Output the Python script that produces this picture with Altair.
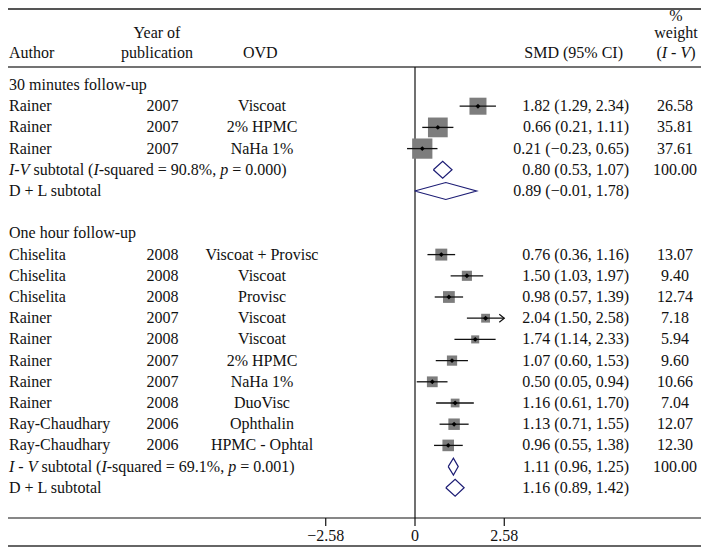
import altair as alt
import pandas as pd

# ---------------- data ----------------
authors = ["Rainer", "Rainer", "Rainer",
           "Chiselita", "Chiselita", "Chiselita", "Rainer", "Rainer", "Rainer",
           "Rainer", "Rainer", "Ray-Chaudhary", "Ray-Chaudhary"]
years = ["2007", "2007", "2007",
         "2008", "2008", "2008", "2007", "2008", "2007", "2007", "2008", "2006", "2006"]
ovds = ["Viscoat", "2% HPMC", "NaHa 1%",
        "Viscoat + Provisc", "Viscoat", "Provisc", "Viscoat", "Viscoat", "2% HPMC",
        "NaHa 1%", "DuoVisc", "Ophthalin", "HPMC - Ophtal"]
smd = [1.82, 0.66, 0.21, 0.76, 1.50, 0.98, 2.04, 1.74, 1.07, 0.50, 1.16, 1.13, 0.96]
ci_lo = [1.29, 0.21, -0.23, 0.36, 1.03, 0.57, 1.50, 1.14, 0.60, 0.05, 0.61, 0.71, 0.55]
ci_hi = [2.34, 1.11, 0.65, 1.16, 1.97, 1.39, 2.58, 2.33, 1.53, 0.94, 1.70, 1.55, 1.38]
weights = [26.58, 35.81, 37.61, 13.07, 9.40, 12.74, 7.18, 5.94, 9.60, 10.66, 7.04, 12.07, 12.30]
study_rows = [1, 2, 3, 8, 9, 10, 11, 12, 13, 14, 15, 16, 17]

group_titles = ["30 minutes follow-up", "One hour follow-up"]
group_rows = [0, 7]

sub_rows = [4, 5, 18, 19]
sub_est = [0.80, 0.89, 1.11, 1.16]
sub_lo = [0.53, -0.01, 0.96, 0.89]
sub_hi = [1.07, 1.78, 1.25, 1.42]
sub_weight = ["100.00", "", "100.00", ""]
dl_label = "D + L subtotal"
iv_stats = [("I-V", "90.8%", "0.000"), ("I - V", "69.1%", "0.001")]

tick_values = [-2.58, 0, 2.58]
tick_labels = ["\u22122.58", "0", "2.58"]
x_max = 2.58

# ---------------- layout ----------------
W, H = 693, 539
X0 = 407          # pixel of SMD = 0
PPU = 34.6        # pixels per SMD unit
ROW0 = 77
ROWH = 21.2
FONT = "Liberation Serif"
FS = 16
TXT = "#111111"
NAVY = "#1c1c74"

xscale = alt.Scale(domain=[0, 2.58], range=[X0, X0 + 2.58 * PPU], nice=False, zero=False)
yscale = alt.Scale(domain=[0, 19], range=[ROW0, ROW0 + 19 * ROWH], nice=False, zero=False)


def fmt(v):
    return f"{v:.2f}".replace("-", "\u2212")


studies = pd.DataFrame({
    "author": authors, "year": years, "ovd": ovds, "smd": smd,
    "lo": ci_lo, "hi": ci_hi, "wt": weights, "row": study_rows,
})
studies["hi_c"] = [min(h, x_max) for h in ci_hi]
studies["ci"] = [f"{fmt(m)} ({fmt(l)}, {fmt(h)})" for m, l, h in zip(smd, ci_lo, ci_hi)]
studies["wtxt"] = [f"{w:.2f}" for w in weights]

subs = pd.DataFrame({"row": sub_rows, "est": sub_est, "lo": sub_lo, "hi": sub_hi,
                     "wtxt": sub_weight})
subs["ci"] = [f"{fmt(m)} ({fmt(l)}, {fmt(h)})" for m, l, h in zip(sub_est, sub_lo, sub_hi)]

diam = []
for i, (r, m, l, h) in enumerate(zip(sub_rows, sub_est, sub_lo, sub_hi)):
    pts = [(l, r), (m, r - 0.4), (h, r), (m, r + 0.4), (l, r)]
    for k, (dx, dy) in enumerate(pts):
        diam.append({"id": i, "ord": k, "dx": dx, "dy": dy})
diam = pd.DataFrame(diam)

groups = pd.DataFrame({"row": group_rows, "t": group_titles})
dls = pd.DataFrame({"row": [sub_rows[1], sub_rows[3]], "t": [dl_label, dl_label]})
ticks = pd.DataFrame({"v": tick_values, "lab": tick_labels})
one = pd.DataFrame({"z": [0]})

Xq = lambda f: alt.X(f, scale=xscale, axis=None)
Yq = lambda f: alt.Y(f, scale=yscale, axis=None)

layers = []

# horizontal frame lines
for yy, col, sw in [(1, "#555555", 2), (59, "#444444", 1.5), (510, "#111111", 1.2), (538, "#666666", 2)]:
    layers.append(alt.Chart(one).mark_rule(color=col, strokeWidth=sw).encode(
        x=alt.value(0), x2=alt.value(W), y=alt.value(yy)))

# zero line
layers.append(alt.Chart(one).mark_rule(color="#111111", strokeWidth=1.2).encode(
    x=Xq("z:Q"), y=alt.value(59), y2=alt.value(510)))

# ticks + labels
layers.append(alt.Chart(ticks).mark_rule(color="#111111", strokeWidth=1.2).encode(
    x=Xq("v:Q"), y=alt.value(510), y2=alt.value(518)))
layers.append(alt.Chart(ticks).mark_text(font=FONT, fontSize=FS, color=TXT, baseline="middle").encode(
    x=Xq("v:Q"), y=alt.value(528), text="lab:N"))

# squares, CI lines, points, arrow
sb = alt.Chart(studies)
layers.append(sb.mark_square(color="#7d7d7d", opacity=1).encode(
    x=Xq("smd:Q"), y=Yq("row:Q"),
    size=alt.Size("wt:Q", scale=alt.Scale(domain=[0, 100], range=[0, 1090]), legend=None)))
layers.append(sb.mark_rule(color="#111111", strokeWidth=1.3).encode(
    x=Xq("lo:Q"), x2="hi_c:Q", y=Yq("row:Q")))
layers.append(sb.mark_point(shape="diamond", filled=True, color="#000000", size=24, opacity=1).encode(
    x=Xq("smd:Q"), y=Yq("row:Q")))
layers.append(sb.transform_filter(alt.datum.hi >= x_max).mark_point(
    shape="M-1,-0.8L0,0L-1,0.8", filled=False, stroke="#111111", strokeWidth=1.2, size=100, opacity=1
).encode(x=Xq("hi_c:Q"), y=Yq("row:Q")))

# diamonds
layers.append(alt.Chart(diam).mark_line(color=NAVY, strokeWidth=1.2).encode(
    x=Xq("dx:Q"), y=Yq("dy:Q"), detail="id:N", order="ord:Q"))

# text columns
def col_text(df, field, xpx, align):
    return alt.Chart(df).mark_text(font=FONT, fontSize=FS, color=TXT, align=align, baseline="middle").encode(
        x=alt.value(xpx), y=Yq("row:Q"), text=f"{field}:N")

layers.append(col_text(studies, "author", 1, "left"))
layers.append(col_text(studies, "year", 154.5, "center"))
layers.append(col_text(studies, "ovd", 254, "center"))
layers.append(col_text(studies, "ci", 621, "right"))
layers.append(col_text(studies, "wtxt", 667, "center"))
layers.append(col_text(subs, "ci", 621, "right"))
layers.append(col_text(subs, "wtxt", 667, "center"))
layers.append(col_text(groups, "t", 1, "left"))
layers.append(col_text(dls, "t", 1, "left"))

# mixed italic subtotal labels (Times-like advance widths, per 1000 em)
REG = {' ': 250, '(': 333, ')': 333, '-': 333, '=': 564, '%': 833, '.': 250, ',': 250,
       's': 389, 'u': 500, 'b': 500, 't': 278, 'o': 500, 'a': 444, 'l': 278, 'q': 500,
       'r': 333, 'e': 444, 'd': 500, 'I': 333, 'V': 722, 'p': 500}
ITA = {'I': 333, 'V': 611, 'p': 500, '-': 333, ' ': 250}


def width(s, it):
    tab = ITA if it else REG
    return sum(tab.get(c, 500) for c in s) * FS / 1000.0


def segments(parts, x_start, row=None, ypx=None):
    out = []
    x = x_start
    for s, it in parts:
        lead = len(s) - len(s.lstrip(' '))
        x += width(' ' * lead, it)
        body = s.strip(' ')
        enc_y = alt.value(ypx) if ypx is not None else Yq("row:Q")
        out.append(alt.Chart(pd.DataFrame({"row": [row if row is not None else 0], "t": [body]})).mark_text(
            font=FONT, fontSize=FS, color=TXT, align="left", baseline="middle",
            fontStyle="italic" if it else "normal").encode(
            x=alt.value(x), y=enc_y, text="t:N"))
        x += width(body, it) + width(' ' * (len(s) - lead - len(body)), it)
    return out


for (lab, isq, pv), r in zip(iv_stats, [sub_rows[0], sub_rows[2]]):
    parts = [(lab, True), (" subtotal (", False), ("I", True),
             (f"-squared = {isq}, ", False), ("p", True), (f" = {pv})", False)]
    layers += segments(parts, 1, row=r)

# header
def head(t, xpx, ypx, align="left", style="normal"):
    return alt.Chart(pd.DataFrame({"t": [t]})).mark_text(
        font=FONT, fontSize=FS, color=TXT, align=align, baseline="middle", fontStyle=style).encode(
        x=alt.value(xpx), y=alt.value(ypx), text="t:N")

layers.append(head("Author", 1, 45))
layers.append(head("Year of", 149, 25, "center"))
layers.append(head("publication", 149, 45, "center"))
layers.append(head("OVD", 235, 45))
layers.append(head("SMD (95% CI)", 615, 45, "right"))
layers.append(head("%", 668, 8, "center"))
layers.append(head("weight", 668, 25, "center"))
hparts = [("(", False), ("I - V", True), (")", False)]
hw = sum(width(s, it) for s, it in hparts)
layers += segments(hparts, 668 - hw / 2, ypx=45)

chart = alt.layer(*layers).properties(
    width=W, height=H, padding=0,
    autosize=alt.AutoSizeParams(type="none"),
).configure_view(stroke=None)

chart.save("out.html", embed_options={"renderer": "svg", "actions": False})
